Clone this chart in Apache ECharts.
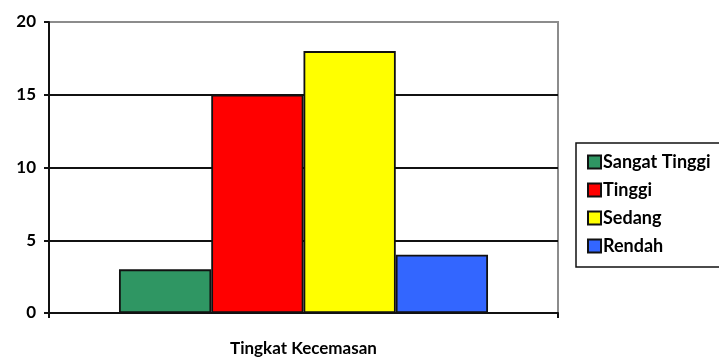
<!DOCTYPE html>
<html>
<head>
<meta charset="utf-8">
<script src="https://cdn.jsdelivr.net/npm/echarts@6/dist/echarts.min.js"></script>
<style>
  html, body { margin: 0; padding: 0; background: #fff; }
  #chart { width: 719px; height: 358px; }
</style>
</head>
<body>
<div id="chart"></div>
<script>
// data
const categories = ['']
const seriesNames = ['Sangat Tinggi', 'Tinggi', 'Sedang', 'Rendah']
const seriesValues = [[3], [15], [18], [4]]
const seriesColors = ['#2f9663', '#ff0000', '#ffff00', '#3366ff']
const yTicks = { min: 0, max: 20, interval: 5 }
const xAxisName = 'Tingkat Kecemasan'

const font = 'Lato, "Open Sans", sans-serif'
const chart = echarts.init(document.getElementById('chart'))

const seriesArr = seriesNames.map((name, i) => {
  return {
    name: name,
    type: 'bar',
    data: seriesValues[i],
    barGap: '0%',
    barCategoryGap: '27.5%',
    itemStyle: {
      color: seriesColors[i],
      borderColor: '#111',
      borderWidth: 1.8
    }
  }
})

const option = {
  animation: false,
  backgroundColor: '#fff',
  grid: {
    left: 49,
    top: 22,
    right: 161,
    bottom: 45,
    outerBoundsMode: 'none',
    containLabel: false,
    show: true,
    borderColor: '#8c8c8c',
    borderWidth: 2
  },
  legend: {
    orient: 'vertical',
    left: 576,
    top: 143,
    data: seriesNames,
    icon: 'rect',
    itemWidth: 13,
    itemHeight: 13,
    itemGap: 8,
    padding: [9, 20, 11, 11],
    borderColor: '#111',
    borderWidth: 1.5,
    textStyle: {
      fontFamily: font,
      fontWeight: 'bold',
      fontSize: 18,
      lineHeight: 20,
      color: '#000',
      padding: [0, 0, 0, -3]
    }
  },
  xAxis: {
    type: 'category',
    data: categories,
    name: xAxisName,
    nameLocation: 'middle',
    nameGap: 27,
    nameTextStyle: {
      fontFamily: font,
      fontWeight: 'bold',
      fontSize: 17,
      color: '#000',
      verticalAlign: 'top'
    },
    axisLine: { lineStyle: { color: '#111', width: 2 } },
    axisTick: { show: true, length: 5, lineStyle: { color: '#111', width: 2 } },
    axisLabel: { show: false }
  },
  yAxis: {
    type: 'value',
    min: yTicks.min,
    max: yTicks.max,
    interval: yTicks.interval,
    axisLine: { show: true, lineStyle: { color: '#111', width: 2 } },
    axisTick: { show: true, length: 5, lineStyle: { color: '#111', width: 2 } },
    axisLabel: {
      margin: 13,
      fontFamily: font,
      fontWeight: 'bold',
      fontSize: 17,
      color: '#000'
    },
    splitLine: {
      show: true,
      lineStyle: { color: ['#111', '#111', '#111', '#111', '#8c8c8c'], width: 2 }
    }
  },
  series: seriesArr
}
chart.setOption(option)
</script>
</body>
</html>
